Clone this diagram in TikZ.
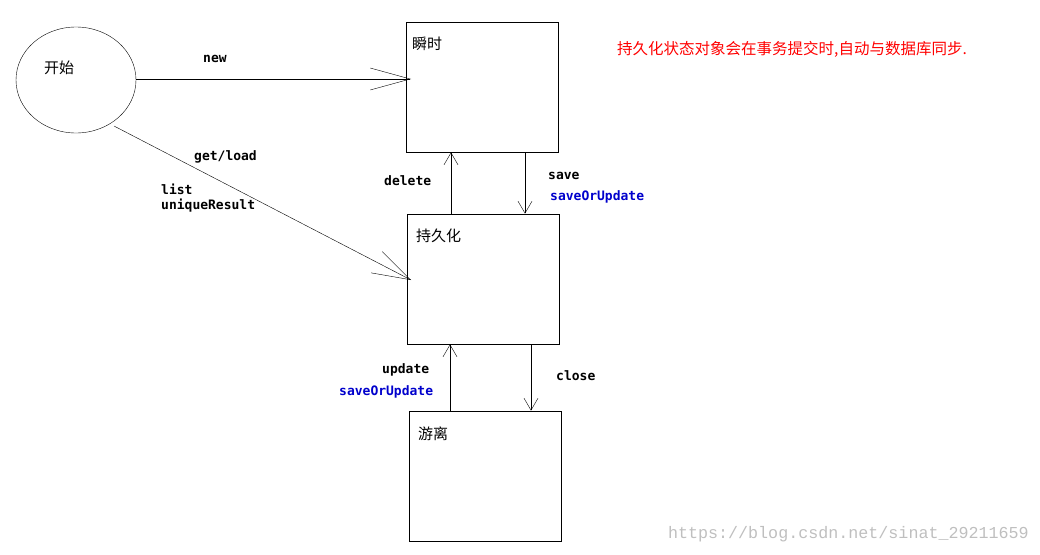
\documentclass[tikz,border=0pt]{standalone}
\usepackage{fontspec}
\newfontfamily\cjk{Noto Sans CJK SC}
\newfontfamily\lab{DejaVu Sans Mono}
\newfontfamily\wm{Liberation Mono}
\usetikzlibrary{shapes.geometric,arrows.meta}
\begin{document}
\begin{tikzpicture}[x=1pt,y=-1pt,
  st/.style={draw,thick,minimum width=152pt,minimum height=130pt,inner sep=0},
  cn/.style={font=\cjk\fontsize{15}{17}\selectfont,anchor=north west,inner sep=0},
  lb/.style={font=\lab\bfseries\fontsize{13}{15}\selectfont,anchor=west,inner sep=0},
  ar/.style={draw,-{Straight Barb[length=12pt,width=14pt]}}]
\useasboundingbox (0,0) rectangle (1040,554);
\node[draw,ellipse,minimum width=120pt,minimum height=106pt] (s) at (76,80) {};
\node[cn] at (44,61) {开始};
\node[st] (a) at (482,87) {};
\node[cn] at (412,37) {瞬时};
\node[st] (p) at (483,279) {};
\node[cn] at (416,229) {持久化};
\node[st] (d) at (485,476) {};
\node[cn] at (418,427) {游离};
\coordinate (n1) at (136,79); \coordinate (n2) at (411,79);
\draw[-{Straight Barb[length=40pt,width=22pt]}] (n1) -- (n2);
\coordinate (g1) at (114,126); \coordinate (g2) at (411,280);
\draw[-{Straight Barb[length=38pt,width=24pt]}] (g1) -- (g2);
\draw[ar] (p.north -| 451,0) -- (a.south -| 451,0);
\draw[ar] (a.south -| 525,0) -- (p.north -| 525,0);
\draw[ar] (d.north -| 450,0) -- (p.south -| 450,0);
\draw[ar] (p.south -| 531,0) -- (d.north -| 531,0);
\node[lb] at (203,59) {new};
\node[lb] at (194,157) {get/load};
\node[lb] at (161,189) {list};
\node[lb] at (161,206) {uniqueResult};
\node[lb] at (384,181) {delete};
\node[lb] at (548,176) {save};
\node[lb,text=blue!80!black] at (550,197) {saveOrUpdate};
\node[lb] at (382,370) {update};
\node[lb,text=blue!80!black] at (339,392) {saveOrUpdate};
\node[lb] at (556,376) {close};
\node[font=\cjk\fontsize{15.5}{17}\selectfont,text=red,anchor=west,inner sep=0] at (617,49) {持久化状态对象会在事务提交时,自动与数据库同步.};
\node[font=\wm\fontsize{16.7}{18}\selectfont,text=black!25,anchor=east,inner sep=0] at (1029,534) {https://blog.csdn.net/sinat\_29211659};
\end{tikzpicture}
\end{document}
